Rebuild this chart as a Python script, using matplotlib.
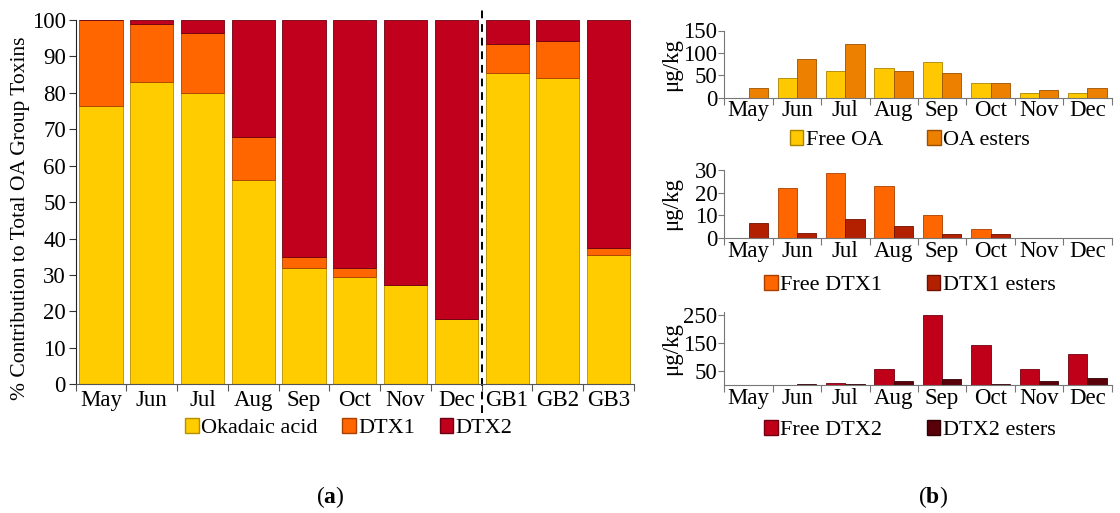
import matplotlib
matplotlib.use("Agg")
import matplotlib.pyplot as plt
import matplotlib.transforms as mtransforms
from matplotlib.patches import Patch
import numpy as np

plt.rcParams['font.family'] = ['Liberation Serif', 'DejaVu Serif']
plt.rcParams['mathtext.fontset'] = 'custom'
plt.rcParams['mathtext.rm'] = 'Liberation Serif'
plt.rcParams['mathtext.bf'] = 'Liberation Serif:bold'

# ---- Panel (a) data ----
cats_a = ["May", "Jun", "Jul", "Aug", "Sep", "Oct", "Nov", "Dec", "GB1", "GB2", "GB3"]
okadaic = [76.5, 83.0, 80.0, 56.0, 32.0, 29.5, 27.3, 18.0, 85.5, 84.0, 35.5]
dtx1 = [23.5, 15.8, 16.3, 12.0, 3.0, 2.5, 0.0, 0.0, 8.0, 10.3, 2.0]
dtx2 = [0.0, 1.2, 3.7, 32.0, 65.0, 68.0, 72.7, 82.0, 6.5, 5.7, 62.5]

# ---- Panel (b) data ----
months = ["May", "Jun", "Jul", "Aug", "Sep", "Oct", "Nov", "Dec"]
free_oa = [0, 44, 59, 67, 79, 32, 10, 10]
oa_esters = [22, 86, 120, 60, 56, 32, 17, 21]
free_dtx1 = [0, 22.2, 28.5, 22.9, 10.3, 3.8, 0, 0]
dtx1_esters = [6.8, 2.4, 8.2, 5.3, 1.9, 1.6, 0, 0]
free_dtx2 = [0, 0, 7, 58, 250, 144, 58, 112]
dtx2_esters = [0, 2.4, 2.4, 14, 23, 4.8, 13, 25]

W, H = 1120, 513
fig = plt.figure(figsize=(W / 100, H / 100), dpi=100)

def fx(px):
    return px / W

def fy(py):
    return 1 - py / H

TICK_FS = 16.5
LEG_FS = 16
c_oa, c_d1, c_d2 = "#FFCC00", "#FF6600", "#C0001C"

# ---------- Panel (a) ----------
axa = fig.add_axes([fx(75.6), fy(384.3), fx(634) - fx(75.6), fy(20) - fy(384.3)])
x = np.arange(len(cats_a))
bw = 0.85
axa.bar(x, okadaic, bw, color=c_oa, edgecolor="#B58F00", linewidth=0.6)
axa.bar(x, dtx1, bw, bottom=okadaic, color=c_d1, edgecolor="#A84000", linewidth=0.6)
bot2 = [a + b for a, b in zip(okadaic, dtx1)]
axa.bar(x, dtx2, bw, bottom=bot2, color=c_d2, edgecolor="#6A0010", linewidth=0.6)
axa.set_xlim(-0.5, len(cats_a) - 0.5)
axa.set_ylim(0, 100)
axa.set_yticks(range(0, 101, 10))
axa.set_xticks(x)
axa.set_xticklabels(cats_a)
axa.set_xticks(np.arange(-0.5, len(cats_a), 1.0), minor=True)
axa.tick_params(axis='x', which='major', length=0, pad=4, labelsize=TICK_FS)
axa.tick_params(axis='x', which='minor', length=5, color="#555555", width=0.8)
axa.tick_params(axis='y', length=5, width=0.8, color="#333333", labelsize=TICK_FS, pad=2)
for s in ("top", "right"):
    axa.spines[s].set_visible(False)
axa.spines["left"].set_color("#222222")
axa.spines["bottom"].set_color("#555555")
trans = mtransforms.blended_transform_factory(axa.transData, axa.transAxes)
axa.plot([7.5, 7.5], [-0.079, 1.033], transform=trans, clip_on=False,
         color="black", linestyle=(0, (4, 3)), linewidth=1.4)
fig.text(fx(21), fy(218), "% Contribution to Total OA Group Toxins",
         rotation=90, ha="center", va="center", fontsize=15.5)
handles_a = [Patch(facecolor=c_oa, edgecolor="#B58F00", label="Okadaic acid"),
             Patch(facecolor=c_d1, edgecolor="#A84000", label="DTX1"),
             Patch(facecolor=c_d2, edgecolor="#6A0010", label="DTX2")]
fig.legend(handles=handles_a, loc="center", bbox_to_anchor=(fx(349), fy(428)), ncol=3,
           frameon=False, fontsize=LEG_FS, handlelength=0.6, handleheight=0.7,
           handletextpad=0.12, columnspacing=1.1, borderaxespad=0)
fig.text(fx(330), fy(497), r"$(\mathbf{a})$", ha="center", va="center", fontsize=17)

# ---------- Panel (b) ----------
def small_panel(top_px, bot_px, v1, v2, c1, c2, e1, e2, ylim, yticks, l1, l2, leg_y):
    ax = fig.add_axes([fx(724.3), fy(bot_px), fx(1111.5) - fx(724.3), fy(top_px) - fy(bot_px)])
    xm = np.arange(len(months))
    w = 0.4
    ax.bar(xm - w / 2, v1, w, color=c1, edgecolor=e1, linewidth=0.6)
    ax.bar(xm + w / 2, v2, w, color=c2, edgecolor=e2, linewidth=0.6)
    ax.set_xlim(-0.5, len(months) - 0.5)
    ax.set_ylim(*ylim)
    ax.set_yticks(yticks)
    ax.set_xticks(xm)
    ax.set_xticklabels(months)
    ax.set_xticks(np.arange(-0.5, len(months), 1.0), minor=True)
    ax.tick_params(axis='x', which='major', length=0, pad=2, labelsize=TICK_FS)
    ax.tick_params(axis='x', which='minor', length=5, color="#777777", width=0.8)
    ax.tick_params(axis='y', length=4, width=0.8, color="#777777", labelsize=TICK_FS, pad=1)
    for s in ("top", "right"):
        ax.spines[s].set_visible(False)
    ax.spines["left"].set_color("#777777")
    ax.spines["bottom"].set_color("#777777")
    fig.text(fx(672), fy((top_px + bot_px) / 2), "μg/kg", rotation=90,
             ha="center", va="center", fontsize=16.5)
    hs = [Patch(facecolor=c1, edgecolor=e1, label=l1), Patch(facecolor=c2, edgecolor=e2, label=l2)]
    fig.legend(handles=hs, loc="center", bbox_to_anchor=(fx(910), fy(leg_y)), ncol=2,
               frameon=False, fontsize=LEG_FS, handlelength=0.6, handleheight=0.7,
               handletextpad=0.12, columnspacing=2.0, borderaxespad=0)
    return ax

small_panel(30.5, 97.7, free_oa, oa_esters, "#FFC800", "#EE8000", "#A88400", "#9A5000",
            (0, 150), [0, 50, 100, 150], "Free OA", "OA esters", 140)
small_panel(170, 238, free_dtx1, dtx1_esters, "#FF6600", "#B22000", "#A84000", "#701000",
            (0, 30), [0, 10, 20, 30], "Free DTX1", "DTX1 esters", 285)
small_panel(312, 385, free_dtx2, dtx2_esters, "#C00018", "#5A0008", "#700010", "#300004",
            (0, 262), [50, 150, 250], "Free DTX2", "DTX2 esters", 430)
fig.text(fx(933), fy(497), r"$(\mathbf{b})$", ha="center", va="center", fontsize=17)

fig.savefig("out.png", dpi=100)
